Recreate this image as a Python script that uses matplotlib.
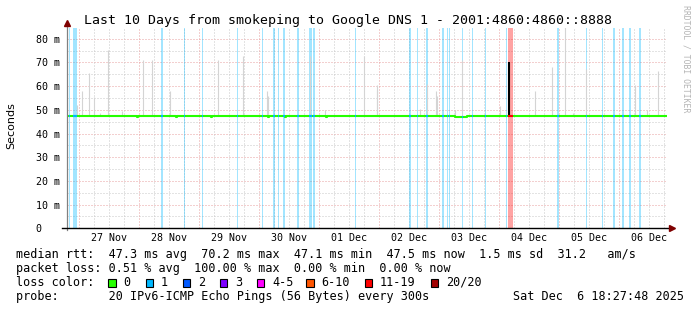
import numpy as np
import matplotlib
matplotlib.use("Agg")
import matplotlib.pyplot as plt
from matplotlib.patches import Rectangle

# ---------------- data ----------------
title = "Last 10 Days from smokeping to Google DNS 1 - 2001:4860:4860::8888"
# time axis: hours since 27 Nov 00:00
t_range = (-4.8, 235.2)
day_labels = ["27 Nov", "28 Nov", "29 Nov", "30 Nov", "01 Dec",
              "02 Dec", "03 Dec", "04 Dec", "05 Dec", "06 Dec"]
y_ticks_ms = [0, 10, 20, 30, 40, 50, 60, 70, 80]
y_top_ms = 84.4

# median RTT (ms) as a step series
median_t = [-4.8, 23.0, 23.4, 38.9, 39.3, 52.9, 53.3, 75.5, 75.9, 82.2, 82.6,
            98.9, 99.3, 150.4, 155.2, 235.2]
median_ms = [47.3, 46.9, 47.3, 46.9, 47.3, 46.9, 47.3, 46.9, 47.3, 46.9, 47.3,
             46.9, 47.3, 46.9, 47.3, 47.3]

# loss events: centre (h), duration (h), pings lost of 20
loss_t = [-3.9, -1.5, 33.2, 42.3, 49.3, 63.3, 73.3, 78.0, 79.7, 81.9, 87.5,
          92.6, 93.9, 110.5, 132.4, 135.4, 139.2, 145.5, 147.3, 148.2, 153.3,
          157.3, 162.7, 170.9, 172.7, 191.7, 203.0, 209.3, 213.9, 217.5,
          220.5, 224.5]
loss_h = [0.5, 1.6, 0.8, 0.5, 0.6, 0.6, 0.5, 0.5, 0.5, 0.9, 0.9,
          0.9, 0.9, 0.5, 0.8, 0.6, 0.8, 0.9, 0.5, 0.4, 0.5,
          0.5, 0.5, 0.5, 1.8, 0.8, 0.6, 0.5, 0.9, 0.9,
          0.7, 0.7]
loss_pings = [1, 1, 1, 1, 1, 1, 1, 1, 1, 1, 1,
              1, 1, 1, 1, 1, 1, 1, 1, 1, 1,
              1, 1, 1, 15, 1, 1, 1, 1, 1,
              1, 1]

# smoke (slowest pings): time (h), top (ms)
smoke_t = [-0.9, 1.3, 3.9, 6.1, 8.4, 11.7, 17.1, 25.7, 29.1, 36.4,
           55.7, 65.7, 75.1, 75.5, 92.3, 98.4, 114.0, 119.1, 119.3, 136.4,
           139.3, 142.7, 143.1, 150.5, 153.3, 168.4, 182.5, 189.3, 194.4, 197.5,
           202.7, 222.4, 227.1, 231.7]
smoke_top = [52, 58, 65.5, 55.6, 48.5, 75.4, 49.7, 71.1, 71.1, 57.9,
             71.1, 72.5, 57.9, 56, 72.5, 50, 72.5, 60.3, 58.5, 50.4,
             61, 58, 56, 50, 71.1, 51.8, 57.9, 68, 90, 48.6,
             67.3, 60.3, 50, 66.3]
max_spike_t = 172.0

# statistics
rtt_avg, rtt_max, rtt_min, rtt_now, rtt_sd, am_s = 47.3, 70.2, 47.1, 47.5, 1.5, 31.2
loss_avg, loss_max, loss_min, loss_now = 0.51, 100.00, 0.00, 0.00
loss_legend = ["0", "1", "2", "3", "4-5", "6-10", "11-19", "20/20"]
loss_legend_colors = ["#26ff00", "#00b8ff", "#0059ff", "#7e00ff",
                      "#ff00ff", "#ff5500", "#ff0000", "#a10000"]
probe_text = "20 IPv6-ICMP Echo Pings (56 Bytes) every 300s"
date_text = "Sat Dec  6 18:27:48 2025"

# ---------------- layout ----------------
W, H = 697, 310
fig = plt.figure(figsize=(W / 100, H / 100), dpi=100)
fig.patch.set_facecolor("white")
L, R, T, B = 67, 667, 28.3, 228.3
ax = fig.add_axes([L / W, 1 - B / H, (R - L) / W, (B - T) / H])
ax.set_xlim(*t_range)
ax.set_ylim(0, y_top_ms)
for s in ax.spines.values():
    s.set_visible(False)

mono = "DejaVu Sans Mono"


def fx(x):
    return x / W


def fy(y):
    return 1 - y / H


def loss_color(n):
    bounds = [0, 1, 2, 3, 5, 10, 19, 20]
    for b, c in zip(bounds, loss_legend_colors):
        if n <= b:
            return c
    return loss_legend_colors[-1]


def median_at(t):
    i = np.searchsorted(median_t, t, side="right") - 1
    return median_ms[max(0, min(i, len(median_ms) - 1))]


# grid
red_grid = "#e8a0a0"
gray_grid = "#c8c8c8"
dots = (0, (1, 2))
yt = np.array(y_ticks_ms)
ax.hlines(yt[1:], *t_range, colors=red_grid, lw=0.72, linestyles=dots, zorder=1)
ax.hlines(yt[:-1] + 5, *t_range, colors=gray_grid, lw=0.72, linestyles=dots, zorder=1)
for h in np.arange(0, t_range[1], 6):
    c = red_grid if h % 24 == 0 else gray_grid
    ax.vlines(h, 0, y_top_ms, colors=c, lw=0.72, linestyles=dots, zorder=1)

# loss background bars
for t, d, n in zip(loss_t, loss_h, loss_pings):
    ax.axvspan(t - d / 2, t + d / 2, color=loss_color(n), alpha=0.36, lw=0, zorder=2)

# smoke
for t, top in zip(smoke_t, smoke_top):
    ax.vlines(t, median_at(t), top, colors="#d4d4d4", lw=0.8, zorder=3)
ax.vlines(max_spike_t, median_at(max_spike_t), rtt_max, colors="black", lw=1.5, zorder=4)

# median line
ax.step(median_t, median_ms, where="post", color="#26ff00", lw=1.5, zorder=5,
        solid_capstyle="butt")
for t, d, n in zip(loss_t, loss_h, loss_pings):
    m = median_at(t)
    ax.hlines(m, t - d / 2, t + d / 2, colors=loss_color(n), lw=1.5, zorder=6)

# axes lines & arrows
ax.plot([0, 0], [-0.01, 1.03], transform=ax.transAxes, color="#808080", lw=0.9,
        clip_on=False, zorder=7)
ax.plot([-0.0083, 1.005], [0, 0], transform=ax.transAxes, color="black", lw=1.0,
        clip_on=False, zorder=7)
ax.plot([0], [1.025], transform=ax.transAxes, marker="^", ms=4.5, color="#7f0000",
        clip_on=False, zorder=8, mec="#7f0000")
ax.plot([1.0075], [0], transform=ax.transAxes, marker=">", ms=4.5, color="#7f0000",
        clip_on=False, zorder=8, mec="#7f0000")

# ticks
ax.set_xticks([12 + 24 * i for i in range(len(day_labels))])
ax.set_xticklabels(day_labels)
ax.set_yticks(y_ticks_ms)
ax.set_yticklabels([("%d m" % v) if v else "0   " for v in y_ticks_ms])
ax.tick_params(axis="both", length=0, labelsize=7.2)
ax.tick_params(axis="y", pad=5)
ax.tick_params(axis="x", pad=3.6)
for lab in ax.get_xticklabels() + ax.get_yticklabels():
    lab.set_family(mono)

# texts
fig.text(fx(348), fy(24), title, ha="center", va="baseline", family=mono, size=9.55)
fig.text(fx(11), fy(126), "Seconds", rotation=90, ha="center", va="center",
         family="DejaVu Sans", size=8)
fig.text(fx(686), fy(59), "RRDTOOL / TOBI OETIKER", rotation=270, ha="center",
         va="center", family=mono, size=5.9, color="#b4b4b4")

fs = 8.5
base = [258.3, 272.0, 285.8, 299.6]
row1 = ("median rtt:  %.1f ms avg  %.1f ms max  %.1f ms min  %.1f ms now  "
        "%.1f ms sd  %.1f   am/s" % (rtt_avg, rtt_max, rtt_min, rtt_now, rtt_sd, am_s))
row2 = ("packet loss: %.2f %% avg  %.2f %% max  %.2f %% min  %.2f %% now"
        % (loss_avg, loss_max, loss_min, loss_now))
fig.text(fx(16), fy(base[0]), row1, family=mono, size=fs, va="baseline")
fig.text(fx(16), fy(base[1]), row2, family=mono, size=fs, va="baseline")

fig.text(fx(16), fy(base[2]), "loss color:", family=mono, size=fs, va="baseline")
sq_x = [108.3, 145.5, 182.7, 219.7, 257, 306.3, 365, 430.7]
for x, lab, c in zip(sq_x, loss_legend, loss_legend_colors):
    fig.patches.append(Rectangle((fx(x), fy(286.7)), 7.3 / W, 7.3 / H,
                                 transform=fig.transFigure, facecolor=c,
                                 edgecolor="black", lw=0.8))
    fig.text(fx(x + 15), fy(base[2]), lab, family=mono, size=fs, va="baseline")

fig.text(fx(16), fy(base[3]), "probe:       " + probe_text, family=mono, size=fs,
         va="baseline")
fig.text(fx(513.3), fy(base[3]), date_text, family=mono, size=fs, va="baseline")

fig.savefig("out.png", dpi=100, facecolor="white")
